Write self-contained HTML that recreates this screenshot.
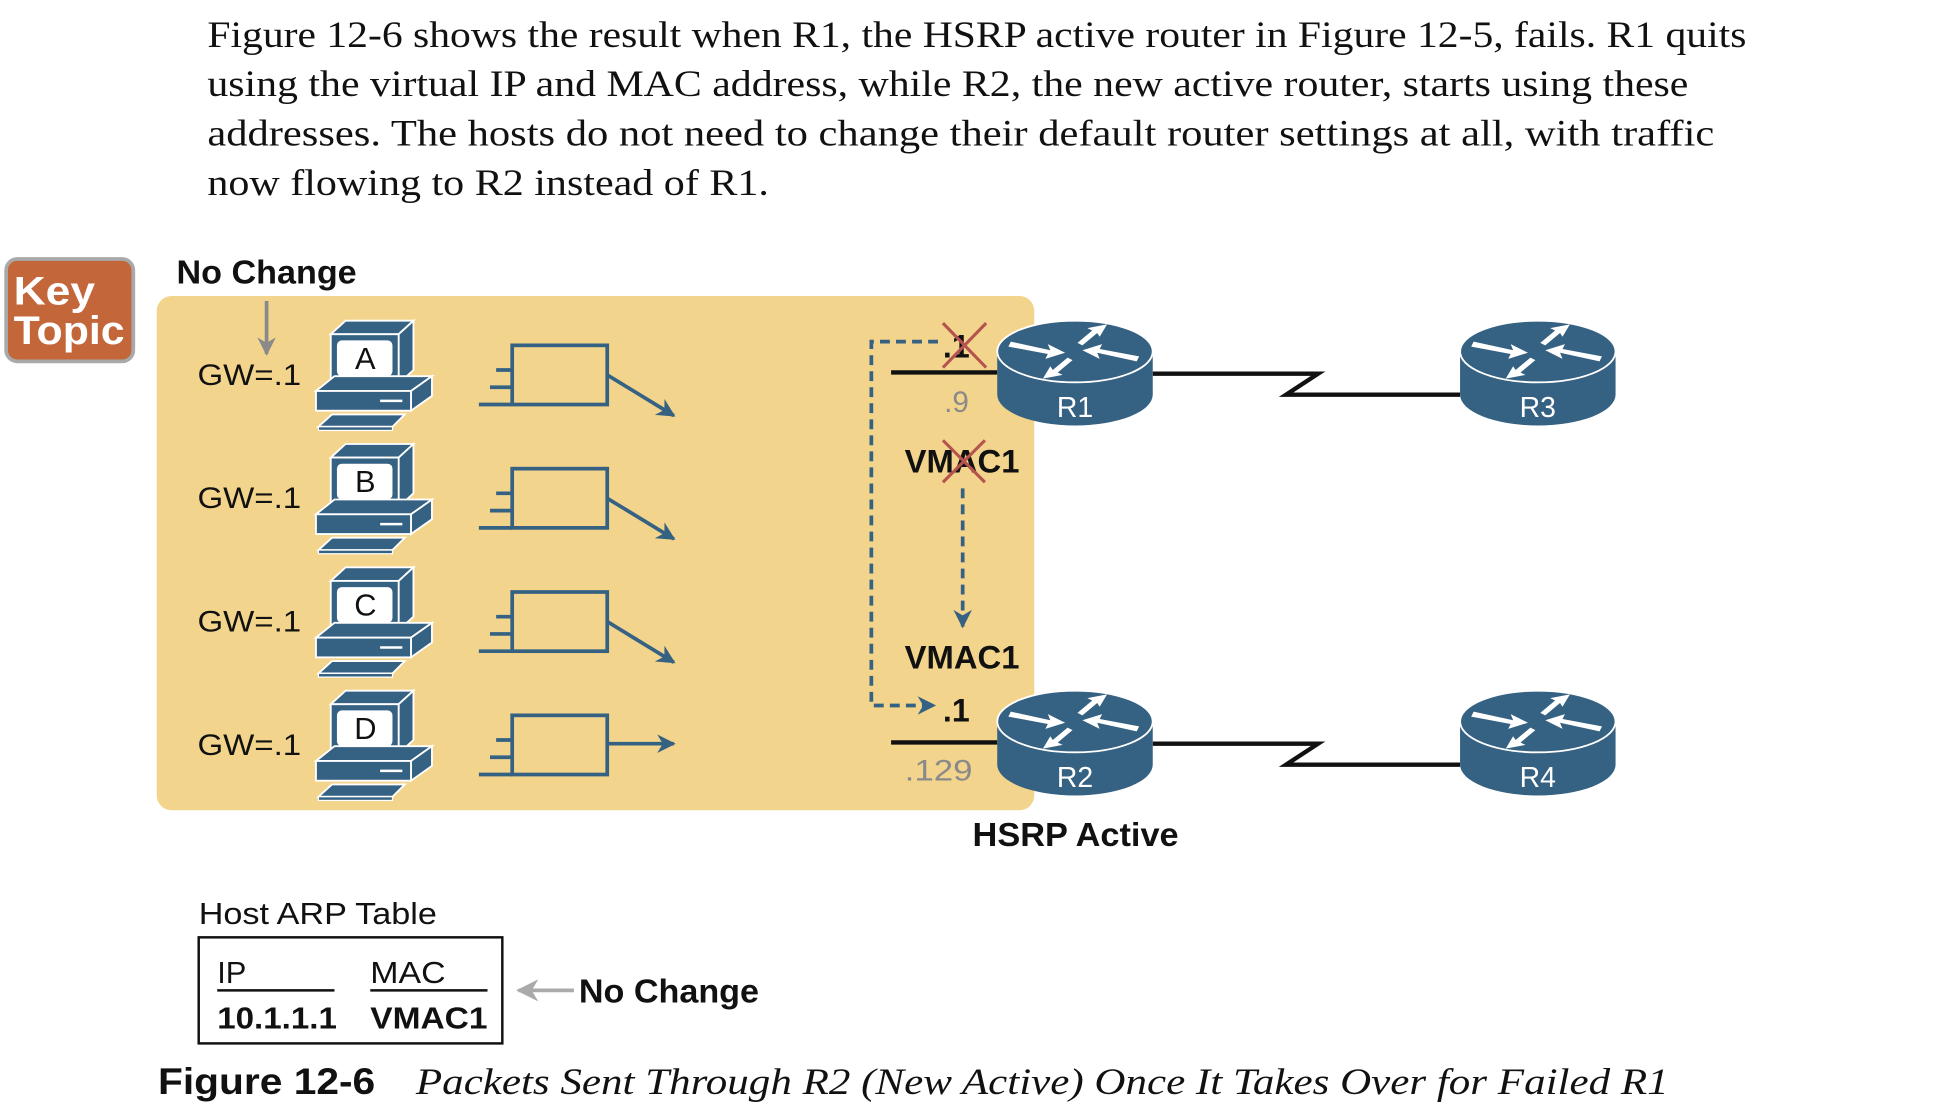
<!DOCTYPE html>
<html><head><meta charset="utf-8"><style>
html,body{margin:0;padding:0;background:#fff;}
svg{display:block;}
</style></head><body>
<svg width="1934" height="1110" viewBox="0 0 1567 900" preserveAspectRatio="none" xmlns="http://www.w3.org/2000/svg">
<defs>
<g id="pc">
  <polygon points="12,7 24,-4 79,-4 67,7" fill="#356182" stroke="#fff" stroke-width="1.5"/>
  <polygon points="67,7 79,-4 79,36 67,47" fill="#356182" stroke="#fff" stroke-width="1.5"/>
  <rect x="12" y="7" width="55" height="40" fill="#356182" stroke="#fff" stroke-width="1.5"/>
  <rect x="17" y="12" width="45" height="29" rx="4" fill="#fff"/>
  <polygon points="0,53 15,41 94,41 77,53" fill="#356182" stroke="#fff" stroke-width="1.5"/>
  <polygon points="77,53 94,41 94,57 77,69" fill="#356182" stroke="#fff" stroke-width="1.5"/>
  <rect x="0" y="53" width="77" height="16" fill="#356182" stroke="#fff" stroke-width="1.5"/>
  <line x1="52" y1="61" x2="70" y2="61" stroke="#fff" stroke-width="2"/>
  <polygon points="2,82 13,72 72,72 62,82" fill="#356182" stroke="#fff" stroke-width="1.5"/>
  <rect x="2" y="82" width="60" height="3" fill="#356182" stroke="#fff" stroke-width="1"/>
</g>
<g id="frame" fill="none" stroke="#356182" stroke-width="3">
  <rect x="415" y="0" width="77" height="48"/>
  <line x1="388" y1="48" x2="415" y2="48"/>
  <line x1="397" y1="34" x2="415" y2="34"/>
  <line x1="402" y1="20" x2="415" y2="20"/>
</g>
<marker id="bh" viewBox="0 0 10 10" refX="9" refY="5" markerWidth="5" markerHeight="5" orient="auto"><path d="M0,0 L10,5 L0,10 L3,5 z" fill="#356182"/></marker>
<marker id="gh" viewBox="0 0 10 10" refX="9" refY="5" markerWidth="5" markerHeight="5" orient="auto"><path d="M0,0 L10,5 L0,10 L3,5 z" fill="#8a8a8a"/></marker>
<marker id="lh" viewBox="0 0 10 10" refX="9" refY="5" markerWidth="6" markerHeight="6" orient="auto"><path d="M0,0 L10,5 L0,10 L3,5 z" fill="#aaa"/></marker>
<g id="router">
  <path d="M-63,0 L-63,35 A63,25 0 0 0 63,35 L63,0 Z" fill="#356182"/>
  <ellipse cx="0" cy="0" rx="63" ry="25" fill="#356182" stroke="#fff" stroke-width="1.5"/>
  <g fill="#fff">
    <polygon points="-52,-8 -20,-1 -22,-6 -8,1 -24,6 -22,2 -54,-4"/>
    <polygon points="50,8 18,1 20,6 6,-1 22,-6 20,-2 52,4"/>
    <polygon points="2,-7 14,-17 10,-19 26,-22 20,-12 18,-15 6,-5"/>
    <polygon points="-2,7 -14,17 -10,19 -26,22 -20,12 -18,15 -6,5"/>
  </g>
</g>
</defs>

<g font-family="Liberation Serif, serif" font-size="30" fill="#111">
  <text x="168" y="38" textLength="1247" lengthAdjust="spacingAndGlyphs">Figure 12-6 shows the result when R1, the HSRP active router in Figure 12-5, fails. R1 quits</text>
  <text x="168" y="78" textLength="1200" lengthAdjust="spacingAndGlyphs">using the virtual IP and MAC address, while R2, the new active router, starts using these</text>
  <text x="168" y="118" textLength="1221" lengthAdjust="spacingAndGlyphs">addresses. The hosts do not need to change their default router settings at all, with traffic</text>
  <text x="168" y="158" textLength="455" lengthAdjust="spacingAndGlyphs">now flowing to R2 instead of R1.</text>
</g>

<rect x="5" y="210" width="103" height="83" rx="9" fill="#c3663a" stroke="#a9a9a9" stroke-width="3"/>
<g font-family="Liberation Sans, sans-serif" font-weight="bold" font-size="32" fill="#fff">
  <text x="11" y="247" textLength="66" lengthAdjust="spacingAndGlyphs">Key</text>
  <text x="11" y="279" textLength="90" lengthAdjust="spacingAndGlyphs">Topic</text>
</g>

<rect x="127" y="240" width="711" height="417" rx="12" fill="#f3d48c"/>

<g font-family="Liberation Sans, sans-serif" fill="#111">
  <text x="143" y="230" font-size="27" font-weight="bold" textLength="146" lengthAdjust="spacingAndGlyphs">No Change</text>
  <text x="160" y="312" font-size="24" textLength="84" lengthAdjust="spacingAndGlyphs">GW=.1</text>
  <text x="160" y="412" font-size="24" textLength="84" lengthAdjust="spacingAndGlyphs">GW=.1</text>
  <text x="160" y="512" font-size="24" textLength="84" lengthAdjust="spacingAndGlyphs">GW=.1</text>
  <text x="160" y="612" font-size="24" textLength="84" lengthAdjust="spacingAndGlyphs">GW=.1</text>
</g>
<line x1="216" y1="244" x2="216" y2="287" stroke="#8a8a8a" stroke-width="3" marker-end="url(#gh)"/>

<use href="#pc" x="256" y="264"/>
<use href="#pc" x="256" y="364"/>
<use href="#pc" x="256" y="464"/>
<use href="#pc" x="256" y="564"/>
<g font-family="Liberation Sans, sans-serif" font-size="25" fill="#111" text-anchor="middle">
  <text x="296" y="299">A</text>
  <text x="296" y="399">B</text>
  <text x="296" y="499">C</text>
  <text x="296" y="599">D</text>
</g>

<use href="#frame" x="0" y="280"/>
<use href="#frame" x="0" y="380"/>
<use href="#frame" x="0" y="480"/>
<use href="#frame" x="0" y="580"/>
<g stroke="#356182" stroke-width="3" fill="none">
  <line x1="492" y1="304" x2="546" y2="337" marker-end="url(#bh)"/>
  <line x1="492" y1="404" x2="546" y2="437" marker-end="url(#bh)"/>
  <line x1="492" y1="504" x2="546" y2="537" marker-end="url(#bh)"/>
  <line x1="492" y1="603" x2="546" y2="603" marker-end="url(#bh)"/>
  <polyline points="760,277 706,277 706,572 757,572" stroke-dasharray="8,5" marker-end="url(#bh)"/>
  <line x1="780" y1="396" x2="780" y2="508" stroke-dasharray="8,5" marker-end="url(#bh)"/>
</g>

<g stroke="#111" stroke-width="3.5" fill="none">
  <line x1="722" y1="302" x2="808" y2="302"/>
  <line x1="722" y1="602" x2="808" y2="602"/>
  <polyline points="934,303 1068,303 1042,320 1183,320"/>
  <polyline points="934,603 1068,603 1042,620 1183,620"/>
</g>

<g font-family="Liberation Sans, sans-serif">
  <text x="764" y="290" font-size="26" font-weight="bold" fill="#111">.1</text>
  <text x="765" y="334" font-size="24" fill="#8a8a8a">.9</text>
  <text x="733" y="383" font-size="26" font-weight="bold" fill="#111" textLength="93" lengthAdjust="spacingAndGlyphs">VMAC1</text>
  <text x="733" y="542" font-size="26" font-weight="bold" fill="#111" textLength="93" lengthAdjust="spacingAndGlyphs">VMAC1</text>
  <text x="764" y="585" font-size="26" font-weight="bold" fill="#111">.1</text>
  <text x="733" y="633" font-size="24" fill="#8a8a8a" textLength="55" lengthAdjust="spacingAndGlyphs">.129</text>
</g>
<g stroke="#b5534f" stroke-width="2.5">
  <line x1="764" y1="262" x2="799" y2="298"/><line x1="799" y1="262" x2="764" y2="298"/>
  <line x1="764" y1="357" x2="798" y2="391"/><line x1="798" y1="357" x2="764" y2="391"/>
</g>

<use href="#router" x="871" y="285"/>
<use href="#router" x="1246" y="285"/>
<use href="#router" x="871" y="585"/>
<use href="#router" x="1246" y="585"/>
<g font-family="Liberation Sans, sans-serif" font-size="23" fill="#fff" text-anchor="middle">
  <text x="871" y="338">R1</text>
  <text x="1246" y="338">R3</text>
  <text x="871" y="638">R2</text>
  <text x="1246" y="638">R4</text>
</g>

<g font-family="Liberation Sans, sans-serif" fill="#111">
  <text x="788" y="686" font-size="27" font-weight="bold" textLength="167" lengthAdjust="spacingAndGlyphs">HSRP Active</text>
  <text x="161" y="749" font-size="25" textLength="193" lengthAdjust="spacingAndGlyphs">Host ARP Table</text>
  <text x="176" y="797" font-size="25">IP</text>
  <text x="300" y="797" font-size="25" textLength="61" lengthAdjust="spacingAndGlyphs">MAC</text>
  <text x="176" y="834" font-size="25" font-weight="bold" textLength="97" lengthAdjust="spacingAndGlyphs">10.1.1.1</text>
  <text x="300" y="834" font-size="25" font-weight="bold" textLength="95" lengthAdjust="spacingAndGlyphs">VMAC1</text>
  <text x="469" y="813" font-size="27" font-weight="bold" textLength="146" lengthAdjust="spacingAndGlyphs">No Change</text>
  <text x="128" y="887" font-size="30" font-weight="bold" textLength="176" lengthAdjust="spacingAndGlyphs">Figure 12-6</text>
</g>
<rect x="161" y="760" width="246" height="86" fill="none" stroke="#111" stroke-width="2"/>
<line x1="176" y1="803" x2="271" y2="803" stroke="#111" stroke-width="2"/>
<line x1="300" y1="803" x2="395" y2="803" stroke="#111" stroke-width="2"/>
<line x1="465" y1="803" x2="420" y2="803" stroke="#aaa" stroke-width="3" marker-end="url(#lh)"/>
<text x="337" y="887" font-family="Liberation Serif, serif" font-style="italic" font-size="30" fill="#111" textLength="1015" lengthAdjust="spacingAndGlyphs">Packets Sent Through R2 (New Active) Once It Takes Over for Failed R1</text>
</svg>
</body></html>
